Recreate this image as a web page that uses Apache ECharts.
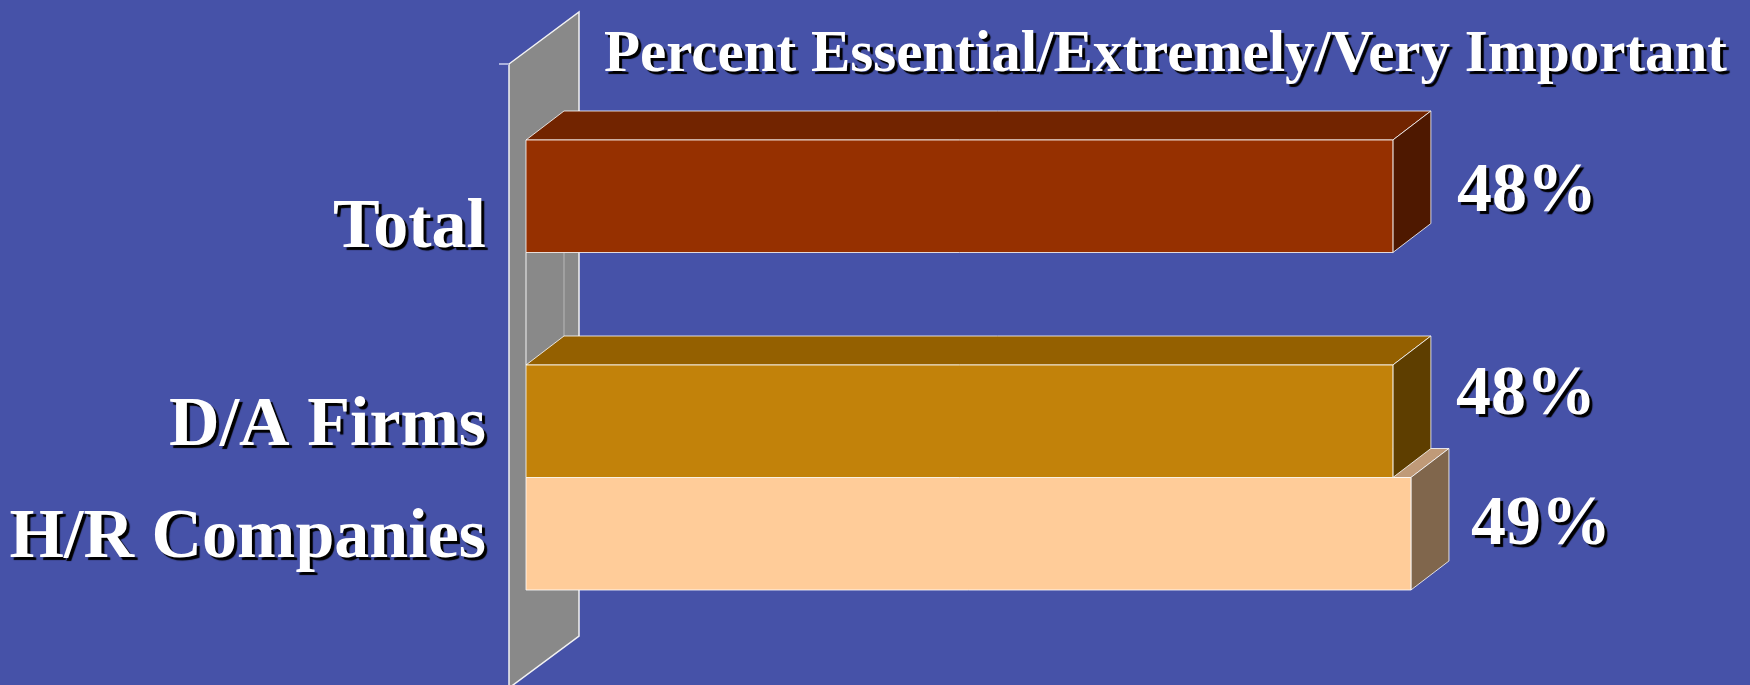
<!DOCTYPE html>
<html>
<head>
<meta charset="utf-8">
<script src="https://cdn.jsdelivr.net/npm/echarts@6/dist/echarts.min.js"></script>
<style>
  html, body { margin: 0; padding: 0; background: #4652a8; }
  #chart { width: 1750px; height: 685px; }
</style>
</head>
<body>
<div id="chart"></div>
<script>
// ---- data ----
const titleText = 'Percent Essential/Extremely/Very Important';
const categories = ['Total', '', 'D/A Firms', 'H/R Companies'];
const values = [48, null, 48, 49];

// ---- styling ----
const frontColors = ['#963000', null, '#c2820a', '#ffcc99'];
const topColors   = ['#722400', null, '#946000', '#c09a78'];
const sideColors  = ['#4e1800', null, '#5e3e00', '#80664c'];
const labelShift  = [-3, null, -25, -8];    // vertical nudge of each value label
const labelGap    = [64, null, 63, 60];     // gap between bar end and its value label

const DEPTH_X = 38, DEPTH_Y = -29;          // bar depth offset
const WALL_X = 70, WALL_Y = -52;            // wall depth offset
const FONT = '"Liberation Serif", "Times New Roman", serif';
const EDGE = { stroke: 'rgba(255,255,255,0.8)', lineWidth: 1 };
const SHADOW = { textShadowColor: '#000', textShadowOffsetX: 3, textShadowOffsetY: 3, textShadowBlur: 1 };

// bars drawn bottom-up so upper boxes overlap the top face of the one below
const barData = values.map((v, i) => [v, i]).filter(d => d[0] != null).reverse();

function renderBox(params, api) {
  const v = api.value(0);
  const i = api.value(1);
  const p0 = api.coord([0, i]);
  const p1 = api.coord([v, i]);
  const h = api.size([0, 1])[1];
  const x0 = p0[0], x1 = p1[0];
  const yt = p0[1] - h / 2, yb = p0[1] + h / 2;
  return {
    type: 'group',
    children: [
      { type: 'polygon',
        shape: { points: [[x0, yt], [x0 + DEPTH_X, yt + DEPTH_Y], [x1 + DEPTH_X, yt + DEPTH_Y], [x1, yt]] },
        style: Object.assign({ fill: topColors[i] }, EDGE) },
      { type: 'polygon',
        shape: { points: [[x1, yt], [x1 + DEPTH_X, yt + DEPTH_Y], [x1 + DEPTH_X, yb + DEPTH_Y], [x1, yb]] },
        style: Object.assign({ fill: sideColors[i] }, EDGE) },
      { type: 'rect',
        shape: { x: x0, y: yt, width: x1 - x0, height: yb - yt },
        style: Object.assign({ fill: frontColors[i] }, EDGE) },
      { type: 'text', x: x1 + labelGap[i], y: p0[1] + labelShift[i],
        style: Object.assign({
          text: v + '%', fill: '#fff', font: 'bold 70px ' + FONT,
          align: 'left', verticalAlign: 'middle'
        }, SHADOW) }
    ]
  };
}

function renderWall(params, api) {
  const cs = params.coordSys;
  const fx = cs.x - 17;
  const topY = cs.y - 76;
  const botY = cs.y + cs.height + 98;
  const gap = api.coord([0, 1]);
  const band = api.size([0, 1])[1];
  const gTop = gap[1] - band / 2, gBot = gap[1] + band / 2;
  return {
    type: 'group',
    children: [
      { type: 'polygon',
        shape: { points: [[fx, topY], [fx + WALL_X, topY + WALL_Y], [fx + WALL_X, botY + WALL_Y], [fx, botY]] },
        style: { fill: '#898989', stroke: '#f2f2f2', lineWidth: 1.5 } },
      { type: 'line', shape: { x1: fx - 10, y1: topY, x2: fx, y2: topY },
        style: { stroke: '#a9b0dc', lineWidth: 2 } },
      { type: 'line', shape: { x1: cs.x, y1: gTop, x2: cs.x, y2: gBot },
        style: { stroke: '#f2f2f2', lineWidth: 1 } },
      { type: 'line', shape: { x1: cs.x + DEPTH_X, y1: gTop, x2: cs.x + DEPTH_X, y2: gBot + DEPTH_Y },
        style: { stroke: '#b8b8b8', lineWidth: 1 } }
    ]
  };
}

const labelBase = Object.assign({ color: '#fff', fontFamily: FONT, fontWeight: 'bold', fontSize: 70 }, SHADOW);

const chart = echarts.init(document.getElementById('chart'), null, { renderer: 'canvas' });
chart.setOption({
  backgroundColor: '#4652a8',
  animation: false,
  title: {
    text: titleText,
    left: 604,
    top: 26,
    padding: 0,
    textStyle: Object.assign({ color: '#fff', fontFamily: FONT, fontWeight: 'bold', fontSize: 59 }, SHADOW)
  },
  grid: { left: 526, right: 321, top: 140, bottom: 95, containLabel: false },
  xAxis: { type: 'value', min: 0, max: 50, show: false },
  yAxis: {
    type: 'category',
    data: categories,
    inverse: true,
    axisLine: { show: false },
    axisTick: { show: false },
    splitLine: { show: false },
    axisLabel: {
      margin: 40,
      formatter: v => (v === 'Total' ? '{low|' + v + '}' : '{n|' + v + '}'),
      rich: {
        n: Object.assign({ padding: [11, 0, 0, 0] }, labelBase),
        low: Object.assign({ padding: [65, 0, 0, 0] }, labelBase)
      }
    }
  },
  series: [
    { type: 'custom', z: 1, silent: true, renderItem: renderWall, data: [[0, 0]], encode: { x: 0, y: 1 } },
    { type: 'custom', z: 2, silent: true, renderItem: renderBox, data: barData, encode: { x: 0, y: 1 } }
  ]
});
</script>
</body>
</html>
